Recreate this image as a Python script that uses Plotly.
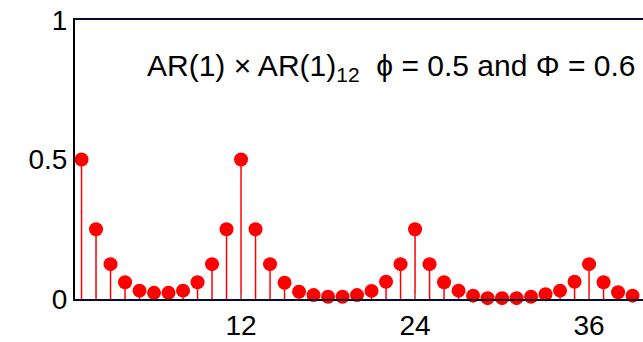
import plotly.graph_objects as go

lags = list(range(1, 41))
acf = [0.5, 0.25, 0.125, 0.06, 0.03, 0.022, 0.022, 0.03, 0.06, 0.125,
       0.25, 0.5, 0.25, 0.125, 0.058, 0.026, 0.014, 0.008, 0.008, 0.014,
       0.029, 0.062, 0.125, 0.25, 0.125, 0.06, 0.03, 0.012, 0.003, 0.003,
       0.003, 0.008, 0.017, 0.03, 0.062, 0.125, 0.06, 0.024, 0.012, 0.006]
xticks = [12, 24, 36]
yticks = [0, 0.5, 1]
yticklabels = ["0", "0.5", "1"]
title_text = "AR(1) × AR(1)<sub>12</sub>  ϕ = 0.5 and Φ = 0.6"

fig = go.Figure()
fig.add_trace(go.Scatter(
    x=lags, y=acf, mode="markers",
    marker=dict(color="#ff0000", size=14, line=dict(width=0)),
    error_y=dict(type="data", symmetric=False, array=[0] * len(acf),
                 arrayminus=acf, width=0, color="#ff0000", thickness=1.5),
    cliponaxis=False, showlegend=False,
))

fig.add_annotation(text=title_text, x=0.558, y=0.83, xref="paper", yref="paper",
                   xanchor="center", yanchor="middle", showarrow=False,
                   font=dict(size=30, color="black"))

fig.update_layout(
    width=643, height=342,
    margin=dict(l=75, r=0, t=20, b=43),
    paper_bgcolor="white", plot_bgcolor="white",
    font=dict(family="Liberation Sans, Arial, sans-serif", color="black", size=28),
)
fig.update_xaxes(range=[0.55, 39.72], tickvals=xticks, showgrid=False, zeroline=False,
                 showline=True, linecolor="#0a0a30", linewidth=2, mirror=True,
                 ticks="inside", ticklen=5, tickcolor="#888888",
                 tickfont=dict(size=28))
fig.update_yaxes(range=[0, 1], tickvals=yticks, ticktext=yticklabels, showgrid=False,
                 zeroline=False, showline=True, linecolor="black", linewidth=2,
                 ticks="", tickfont=dict(size=28))

fig.write_html("out.html")
